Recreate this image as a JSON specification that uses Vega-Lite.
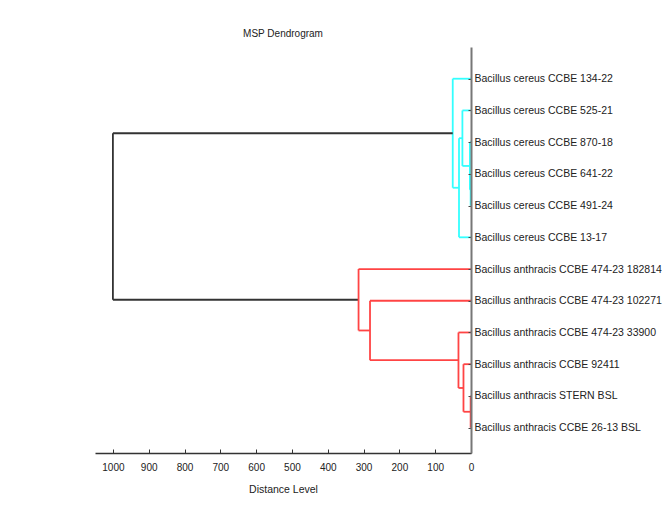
{
  "$schema": "https://vega.github.io/schema/vega-lite/v6.json",
  "width": 376,
  "height": 406,
  "autosize": {"type": "none"},
  "padding": {"left": 95, "top": 47, "right": 191, "bottom": 60},
  "background": "white",
  "title": {"text": "MSP Dendrogram", "font": "Liberation Sans", "fontSize": 10, "fontWeight": "normal", "color": "#222222", "anchor": "middle", "offset": 8},
  "config": {"view": {"stroke": null}},
  "data": {"values": [
    {"d": 0, "d2": 1, "i": 4, "i2": 4, "g": "c"},
    {"d": 0, "d2": 1, "i": 5, "i2": 5, "g": "c"},
    {"d": 1, "d2": 1, "i": 4, "i2": 5, "g": "c"},
    {"d": 0, "d2": 3, "i": 3, "i2": 3, "g": "c"},
    {"d": 1, "d2": 3, "i": 4.5, "i2": 4.5, "g": "c"},
    {"d": 3, "d2": 3, "i": 3, "i2": 4.5, "g": "c"},
    {"d": 0, "d2": 24, "i": 2, "i2": 2, "g": "c"},
    {"d": 3, "d2": 24, "i": 3.75, "i2": 3.75, "g": "c"},
    {"d": 24, "d2": 24, "i": 2, "i2": 3.75, "g": "c"},
    {"d": 0, "d2": 33.5, "i": 6, "i2": 6, "g": "c"},
    {"d": 24, "d2": 33.5, "i": 2.875, "i2": 2.875, "g": "c"},
    {"d": 33.5, "d2": 33.5, "i": 2.875, "i2": 6, "g": "c"},
    {"d": 0, "d2": 51, "i": 1, "i2": 1, "g": "c"},
    {"d": 33.5, "d2": 51, "i": 4.4375, "i2": 4.4375, "g": "c"},
    {"d": 51, "d2": 51, "i": 1, "i2": 4.4375, "g": "c"},
    {"d": 51, "d2": 1000, "i": 2.71875, "i2": 2.71875, "g": "k"},
    {"d": 314, "d2": 1000, "i": 7.96875, "i2": 7.96875, "g": "k"},
    {"d": 1000, "d2": 1000, "i": 2.71875, "i2": 7.96875, "g": "k"},
    {"d": 0, "d2": 1, "i": 11, "i2": 11, "g": "r"},
    {"d": 0, "d2": 1, "i": 12, "i2": 12, "g": "r"},
    {"d": 1, "d2": 1, "i": 11, "i2": 12, "g": "r"},
    {"d": 0, "d2": 21, "i": 10, "i2": 10, "g": "r"},
    {"d": 1, "d2": 21, "i": 11.5, "i2": 11.5, "g": "r"},
    {"d": 21, "d2": 21, "i": 10, "i2": 11.5, "g": "r"},
    {"d": 0, "d2": 35, "i": 9, "i2": 9, "g": "r"},
    {"d": 21, "d2": 35, "i": 10.75, "i2": 10.75, "g": "r"},
    {"d": 35, "d2": 35, "i": 9, "i2": 10.75, "g": "r"},
    {"d": 0, "d2": 282, "i": 8, "i2": 8, "g": "r"},
    {"d": 35, "d2": 282, "i": 9.875, "i2": 9.875, "g": "r"},
    {"d": 282, "d2": 282, "i": 8, "i2": 9.875, "g": "r"},
    {"d": 0, "d2": 314, "i": 7, "i2": 7, "g": "r"},
    {"d": 282, "d2": 314, "i": 8.9375, "i2": 8.9375, "g": "r"},
    {"d": 314, "d2": 314, "i": 7, "i2": 8.9375, "g": "r"}
  ]},
  "mark": {"type": "rule", "strokeWidth": 1.8},
  "encoding": {
    "x": {
      "field": "d", "type": "quantitative",
      "scale": {"domain": [0, 1050], "reverse": true, "nice": false, "zero": false},
      "axis": {
        "values": [0, 100, 200, 300, 400, 500, 600, 700, 800, 900, 1000],
        "format": "d",
        "title": "Distance Level",
        "titleFont": "Liberation Sans", "titleFontSize": 10.5, "titleFontWeight": "normal", "titleColor": "#222222",
        "titlePadding": 12,
        "labelFont": "Liberation Sans", "labelFontSize": 10, "labelColor": "#222222",
        "labelPadding": 13,
        "tickSize": -4, "tickColor": "#333333",
        "domainColor": "#333333", "domainWidth": 1.5,
        "grid": false, "labelFlush": false, "labelOverlap": false
      }
    },
    "x2": {"field": "d2"},
    "y": {
      "field": "i", "type": "quantitative",
      "scale": {"domain": [0, 12.8], "reverse": true, "nice": false, "zero": false},
      "axis": {
        "orient": "right",
        "values": [1, 2, 3, 4, 5, 6, 7, 8, 9, 10, 11, 12],
        "labelExpr": "['', 'Bacillus cereus CCBE 134-22', 'Bacillus cereus CCBE 525-21', 'Bacillus cereus CCBE 870-18', 'Bacillus cereus CCBE 641-22', 'Bacillus cereus CCBE 491-24', 'Bacillus cereus CCBE 13-17', 'Bacillus anthracis CCBE 474-23 182814', 'Bacillus anthracis CCBE 474-23 102271', 'Bacillus anthracis CCBE 474-23 33900', 'Bacillus anthracis CCBE 92411', 'Bacillus anthracis STERN BSL', 'Bacillus anthracis CCBE 26-13 BSL'][datum.value]",
        "title": null,
        "labelFont": "Liberation Sans", "labelFontSize": 10.5, "labelColor": "#222222",
        "labelPadding": 6, "labelLimit": 400, "labelOverlap": false, "labelFlush": false,
        "tickSize": -3, "tickColor": "#444444",
        "domainColor": "#777777", "domainWidth": 2,
        "grid": false, "zindex": 1
      }
    },
    "y2": {"field": "i2"},
    "color": {
      "field": "g", "type": "nominal",
      "scale": {"domain": ["c", "r", "k"], "range": ["#33ffff", "#ff4444", "#333333"]},
      "legend": null
    }
  }
}
